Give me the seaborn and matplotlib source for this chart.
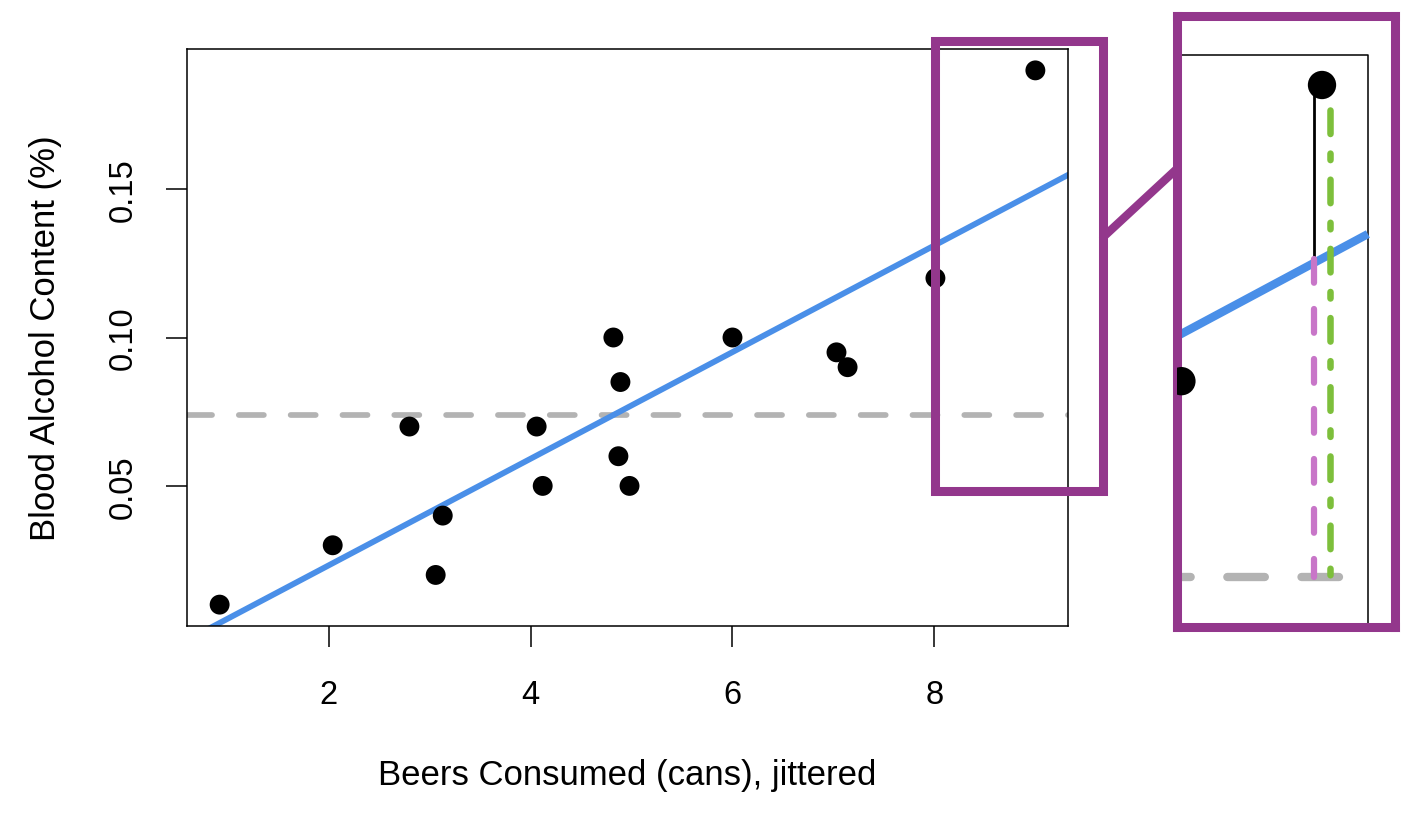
import numpy as np
import pandas as pd
import matplotlib
matplotlib.use('Agg')
import matplotlib.pyplot as plt
import seaborn as sns
from matplotlib.patches import Rectangle, ConnectionPatch

sns.set_theme(style='white')
plt.rcParams['font.family'] = ['Liberation Sans', 'DejaVu Sans']
plt.rcParams['text.color'] = 'black'
plt.rcParams['axes.labelcolor'] = 'black'
plt.rcParams['xtick.color'] = 'black'
plt.rcParams['ytick.color'] = 'black'

# data (x positions are jittered, fit uses the whole cans)
beers_jit = [0.92, 2.04, 2.80, 3.06, 3.13, 4.06, 4.12, 4.82, 4.87, 4.89, 4.98, 6.00, 7.03, 7.14, 8.01, 9.00]
beers = [1, 2, 3, 3, 3, 4, 4, 5, 5, 5, 5, 6, 7, 7, 8, 9]
bac = [0.010, 0.030, 0.070, 0.020, 0.040, 0.070, 0.050, 0.100, 0.060, 0.085, 0.050, 0.100, 0.095, 0.090, 0.120, 0.190]
x_ticks = [2, 4, 6, 8]
y_ticks = [0.05, 0.10, 0.15]
y_tick_labels = ['0.05', '0.10', '0.15']

df = pd.DataFrame({'beers_jit': beers_jit, 'beers': beers, 'bac': bac})
slope, intercept = np.polyfit(df['beers'], df['bac'], 1)
bac_mean = df['bac'].mean()

blue = '#4A8FE8'
grey = '#B3B3B3'
purple = '#93378C'
pink = '#C876C8'
green = '#7DBF3B'


def r_lims(v):
    lo, hi = min(v), max(v)
    pad = 0.04 * (hi - lo)
    return lo - pad, hi + pad


xlim = r_lims(beers_jit)
ylim = r_lims(bac)

fig = plt.figure(figsize=(14.14, 8.2), dpi=100)
W, H = 1414, 820
ax = fig.add_axes([187 / W, 1 - 627 / H, 881 / W, 577 / H])

ax.set_xlim(xlim)
ax.set_ylim(ylim)
ax.axhline(bac_mean, color=grey, lw=4.1, linestyle=(0, (4.4, 4.7)),
           dash_capstyle='round', zorder=1)
sns.regplot(data=df, x='beers', y='bac', ax=ax, scatter=False, ci=None,
            truncate=False, color=blue, line_kws={'lw': 4.2, 'zorder': 2})
sns.scatterplot(data=df, x='beers_jit', y='bac', ax=ax, s=205, color='black',
                edgecolor='none', zorder=3)
ax.set_xlim(xlim)
ax.set_ylim(ylim)

ax.set_xticks(x_ticks, [str(t) for t in x_ticks])
ax.set_yticks(y_ticks, y_tick_labels, rotation=90, va='center')
ax.tick_params(axis='both', direction='out', length=15, width=1.1, color='black',
               labelsize=23.5, bottom=True, left=True)
ax.tick_params(axis='x', pad=23)
ax.tick_params(axis='y', pad=20)
ax.set_xlabel('Beers Consumed (cans), jittered', fontsize=25, labelpad=35)
ax.set_ylabel('Blood Alcohol Content (%)', fontsize=25, labelpad=33)
for sp in ax.spines.values():
    sp.set_color('black')
    sp.set_linewidth(1.1)

# zoom box on the main plot
zx = (8.007, 9.671)
zy = (0.0484, 0.2000)
ax.add_patch(Rectangle((zx[0], zy[0]), zx[1] - zx[0], zy[1] - zy[0], fill=False,
                       edgecolor=purple, lw=6.5, clip_on=False, zorder=5,
                       joinstyle='miter'))

# inset with the residual decomposition of the last point
ins = fig.add_axes([1177 / W, 1 - 628 / H, 218 / W, 611 / H])
px, py, pb = beers_jit[-1], bac[-1], beers[-1]
ix = (px - 145 / 142, px + 73 / 142)
iy = (py - 542 / 4231, py + 69 / 4231)
ins.plot([xlim[0], xlim[1], xlim[1]], [ylim[1], ylim[1], ylim[0]], color='black', lw=1.1)
ins.plot([9.12, xlim[0]], [bac_mean, bac_mean], color=grey, lw=6,
         linestyle=(0, (4.5, 4.4)), dash_capstyle='round')
fx = np.array(xlim)
ins.plot(fx, intercept + slope * fx, color=blue, lw=6, solid_capstyle='butt')
sns.scatterplot(data=df, x='beers_jit', y='bac', ax=ins, s=416, color='black',
                edgecolor='none', zorder=4)
fitted = intercept + slope * pb
off = 0.056
ins.plot([px - off, px - off], [py, fitted], color='black', lw=2, zorder=3)
ins.plot([px - off, px - off], [fitted, bac_mean], color=pink, lw=4.5,
         linestyle=(0, (3.8, 4.2)), dash_capstyle='round', zorder=3)
ins.plot([px + off, px + off], [py - 0.0059, bac_mean], color=green, lw=4.7,
         linestyle=(0, (3.6, 3.0, 1.0, 3.0)), dash_capstyle='round', zorder=3)
ins.set_xlim(ix)
ins.set_ylim(iy)
ins.set_xticks([])
ins.set_yticks([])
ins.set_xlabel('')
ins.set_ylabel('')
for sp in ins.spines.values():
    sp.set_color(purple)
    sp.set_linewidth(6.5)

con = ConnectionPatch(xyA=(zx[1], 0.1338), coordsA=ax.transData,
                      xyB=(0, 0.75), coordsB=ins.transAxes,
                      color=purple, lw=6, zorder=6)
fig.add_artist(con)

fig.savefig('out.png', dpi=100)
